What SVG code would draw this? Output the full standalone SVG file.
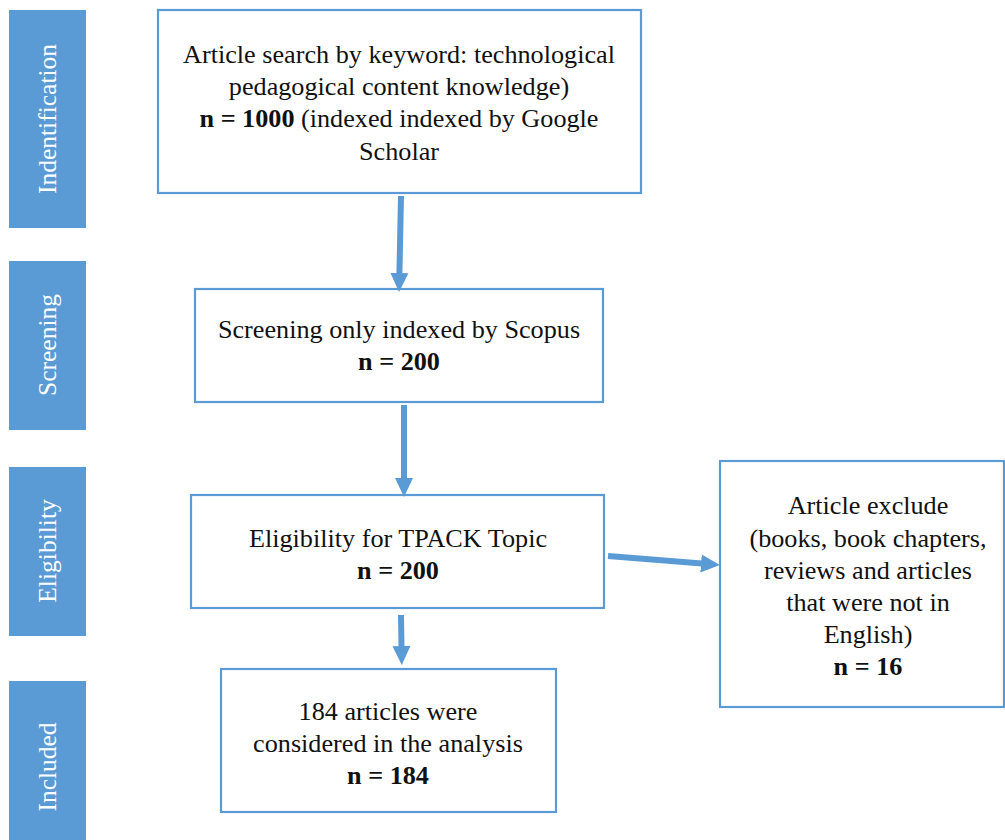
<svg xmlns="http://www.w3.org/2000/svg" width="1005" height="840" viewBox="0 0 1005 840">
<style>
.side{fill:#5B9BD5}
.sidet{fill:#ffffff;font-family:"Liberation Serif",serif;font-size:25.5px;text-anchor:middle}
.box{fill:#ffffff;stroke:#5B9BD5;stroke-width:2.2}
.t{fill:#111111;font-family:"Liberation Serif",serif;font-size:26.2px;text-anchor:middle}
.b{font-weight:bold}
.arr{stroke:#5B9BD5;stroke-width:6;fill:none;marker-end:url(#ah)}
</style>
<defs>
<marker id="ah" markerUnits="userSpaceOnUse" markerWidth="20" markerHeight="20" refX="1" refY="9" orient="auto" viewBox="0 0 20 18">
<path d="M0,0 L19,9 L0,18 z" fill="#5B9BD5"/>
</marker>
</defs>
<rect width="1005" height="840" fill="#ffffff"/>
<g id="stage-identification">
<rect class="side" x="9" y="10" width="77" height="218"/>
<text class="sidet" transform="translate(56,119) rotate(-90)">Indentification</text>
</g>
<g id="stage-screening">
<rect class="side" x="9" y="261" width="77" height="169"/>
<text class="sidet" transform="translate(56,345) rotate(-90)">Screening</text>
</g>
<g id="stage-eligibility">
<rect class="side" x="9" y="467" width="77" height="169"/>
<text class="sidet" transform="translate(56,551) rotate(-90)">Eligibility</text>
</g>
<g id="stage-included">
<rect class="side" x="9" y="681" width="77" height="159"/>
<text class="sidet" transform="translate(56,767) rotate(-90)">Included</text>
</g>
<g id="box-search">
<rect class="box" x="158" y="10" width="483" height="183"/>
<text class="t" x="399" y="63">Article search by keyword: technological</text>
<text class="t" x="399" y="95">pedagogical content knowledge)</text>
<text class="t" x="399" y="127"><tspan class="b">n = 1000</tspan> (indexed indexed by Google</text>
<text class="t" x="399" y="160">Scholar</text>
</g>
<g id="box-screening">
<rect class="box" x="195" y="289" width="408" height="113"/>
<text class="t" x="399" y="338">Screening only indexed by Scopus</text>
<text class="t b" x="399" y="370">n = 200</text>
</g>
<g id="box-eligibility">
<rect class="box" x="191" y="495" width="413" height="113"/>
<text class="t" x="398" y="547">Eligibility for TPACK Topic</text>
<text class="t b" x="398" y="579">n = 200</text>
</g>
<g id="box-included">
<rect class="box" x="221" y="669" width="335" height="143"/>
<text class="t" x="388" y="720">184 articles were</text>
<text class="t" x="388" y="752">considered in the analysis</text>
<text class="t b" x="388" y="784">n = 184</text>
</g>
<g id="box-excluded">
<rect class="box" x="720" y="461" width="284" height="246"/>
<text class="t" x="868" y="514">Article exclude</text>
<text class="t" x="868" y="547">(books, book chapters,</text>
<text class="t" x="868" y="579">reviews and articles</text>
<text class="t" x="868" y="611">that were not in</text>
<text class="t" x="868" y="643">English)</text>
<text class="t b" x="868" y="675">n = 16</text>
</g>
<g id="connectors">
<line class="arr" x1="401" y1="196" x2="399.4" y2="274"/>
<line class="arr" x1="404" y1="405" x2="404" y2="479"/>
<line class="arr" x1="401" y1="615" x2="401.5" y2="647"/>
<line class="arr" x1="608" y1="556" x2="702" y2="563.5"/>
</g>
</svg>
